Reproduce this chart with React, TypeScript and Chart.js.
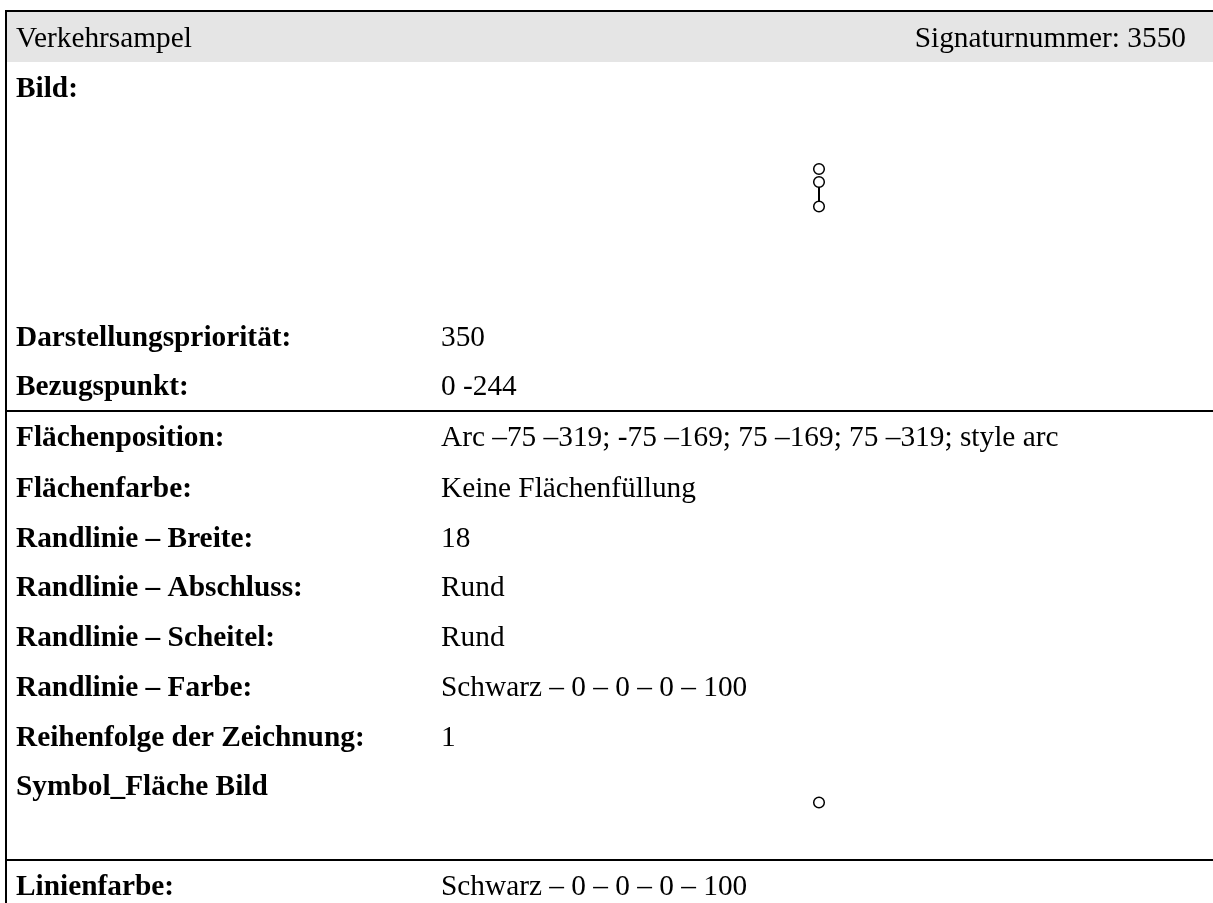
import React, { useEffect, useRef } from "react";
import { Chart, registerables } from "chart.js";

Chart.register(...registerables);

const WIDTH = 1213;
const HEIGHT = 903;

const headerLeft = "Verkehrsampel";
const headerRight = "Signaturnummer: 3550";
const rowLabels = [
  "Bild:",
  "Darstellungspriorität:",
  "Bezugspunkt:",
  "Flächenposition:",
  "Flächenfarbe:",
  "Randlinie – Breite:",
  "Randlinie – Abschluss:",
  "Randlinie – Scheitel:",
  "Randlinie – Farbe:",
  "Reihenfolge der Zeichnung:",
  "Symbol_Fläche Bild",
  "Linienfarbe:",
];
const rowValues = [
  "",
  "350",
  "0 -244",
  "Arc –75 –319; -75 –169; 75 –169; 75 –319; style arc",
  "Keine Flächenfüllung",
  "18",
  "Rund",
  "Rund",
  "Schwarz – 0 – 0 – 0 – 100",
  "1",
  "",
  "Schwarz – 0 – 0 – 0 – 100",
];
const rowBaselines = [97, 346, 395, 446, 497, 547, 596, 646, 696, 746, 795, 895];

const symbolCirclesX = [819, 819, 819, 819];
const symbolCirclesY = [169, 182, 206.5, 802.5];
const stemX = [819, 819];
const stemY = [187, 201];

const bandX = [7, 1213];
const bandY = [37, 37];
const topRuleX = [5, 1213];
const topRuleY = [11, 11];
const leftRuleX = [6, 6];
const leftRuleY = [10, 903];
const midRuleX = [7, 1213];
const midRuleY = [411, 411];
const lowRuleX = [7, 1213];
const lowRuleY = [860, 860];

const toPoints = (xs: number[], ys: number[]) => xs.map((x, i) => ({ x, y: ys[i] }));

const tableText = {
  id: "tableText",
  afterDatasetsDraw(chart: Chart) {
    const { ctx, scales } = chart;
    const x = scales.x;
    const y = scales.y;
    ctx.save();
    ctx.fillStyle = "#000000";
    ctx.textBaseline = "alphabetic";
    ctx.font = '29.33px "Liberation Serif"';
    ctx.textAlign = "left";
    ctx.fillText(headerLeft, x.getPixelForValue(16), y.getPixelForValue(47));
    ctx.textAlign = "right";
    ctx.fillText(headerRight, x.getPixelForValue(1186), y.getPixelForValue(47));
    ctx.textAlign = "left";
    rowLabels.forEach((label, i) => {
      ctx.font = 'bold 29.33px "Liberation Serif"';
      ctx.fillText(label, x.getPixelForValue(16), y.getPixelForValue(rowBaselines[i]));
      ctx.font = '29.33px "Liberation Serif"';
      ctx.fillText(rowValues[i], x.getPixelForValue(441), y.getPixelForValue(rowBaselines[i]));
    });
    ctx.restore();
  },
};

export default function App() {
  const ref = useRef<HTMLCanvasElement>(null);
  useEffect(() => {
    if (!ref.current) return;
    const line = (xs: number[], ys: number[], color: string, width: number) => ({
      type: "line" as const,
      data: toPoints(xs, ys),
      borderColor: color,
      borderWidth: width,
      pointRadius: 0,
      fill: false,
      tension: 0,
    });
    const chart = new Chart(ref.current, {
      type: "scatter",
      data: {
        datasets: [
          line(bandX, bandY, "#e5e5e5", 50),
          line(topRuleX, topRuleY, "#000000", 2),
          line(leftRuleX, leftRuleY, "#000000", 2),
          line(midRuleX, midRuleY, "#000000", 2),
          line(lowRuleX, lowRuleY, "#000000", 2),
          line(stemX, stemY, "#000000", 2),
          {
            type: "scatter" as const,
            data: toPoints(symbolCirclesX, symbolCirclesY),
            pointRadius: 5.3,
            pointBorderWidth: 1.5,
            pointBorderColor: "#000000",
            pointBackgroundColor: "rgba(0,0,0,0)",
            showLine: false,
          },
        ] as any,
      },
      options: {
        animation: false,
        responsive: false,
        layout: { padding: 0, autoPadding: false },
        plugins: { legend: { display: false }, tooltip: { enabled: false }, title: { display: false } },
        scales: {
          x: { type: "linear", display: false, min: 0, max: WIDTH },
          y: { type: "linear", display: false, min: 0, max: HEIGHT, reverse: true },
        },
      },
      plugins: [tableText],
    });
    return () => chart.destroy();
  }, []);
  return (
    <canvas
      ref={ref}
      width={WIDTH}
      height={HEIGHT}
      style={{ position: "fixed", left: 0, top: 0, width: WIDTH, height: HEIGHT, display: "block" }}
    />
  );
}
